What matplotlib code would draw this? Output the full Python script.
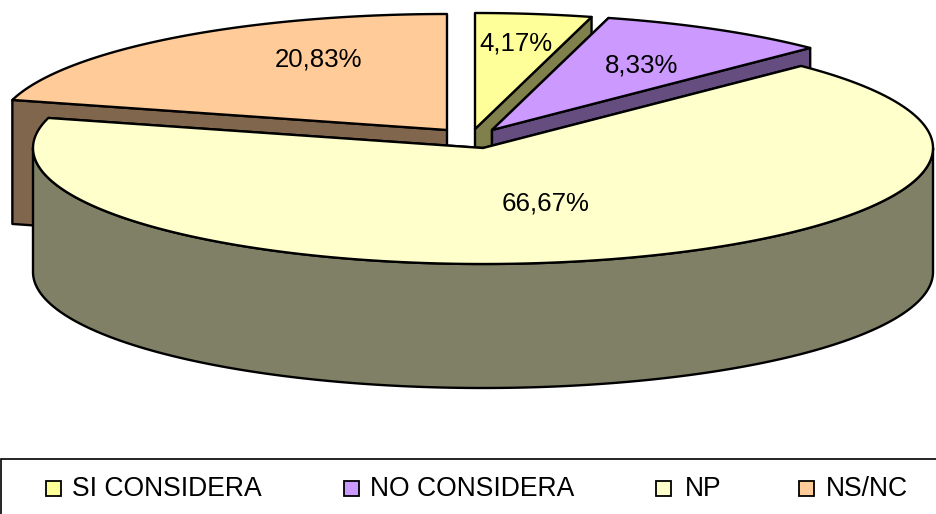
import numpy as np
import matplotlib
matplotlib.use("Agg")
import matplotlib.pyplot as plt
from matplotlib.patches import Polygon, Rectangle

categories = ["SI CONSIDERA", "NO CONSIDERA", "NP", "NS/NC"]
values = [4.17, 8.33, 66.67, 20.83]

top_colors = ["#FFFF99", "#CC99FF", "#FFFFCC", "#FFCC99"]
side_colors = ["#80804D", "#664D80", "#808066", "#80664D"]
apexes = [(475, 129), (492, 130), (483, 148), (447, 130)]
label_pos = [(516, 43), (642, 65), (546, 203), (318, 59)]
legend_box_x = [46, 344, 656, 799]
legend_text_x = [72, 370, 685, 826]
draw_order = [3, 0, 1, 2]

RX, RY, DEPTH = 450, 116, 124
LW = 1.7

plt.rcParams["font.family"] = ["Liberation Sans", "DejaVu Sans"]
fig = plt.figure(figsize=(9.36, 5.14), dpi=100)
ax = fig.add_axes([0, 0, 1, 1])
ax.set_xlim(0, 936)
ax.set_ylim(514, 0)
ax.axis("off")

edges = np.concatenate([[0], np.cumsum(values)]) * 3.6


def rim(apex, a0, a1):
    t = np.radians(np.linspace(a0, a1, max(2, int(abs(a1 - a0) * 2))))
    return np.column_stack([apex[0] + RX * np.sin(t), apex[1] - RY * np.cos(t)])


def face(pts, color, z):
    ax.add_patch(Polygon(pts, closed=True, facecolor=color, edgecolor="black",
                         linewidth=LW, joinstyle="round", zorder=z))


z = 1
for i in draw_order:
    a0, a1 = edges[i], edges[i + 1]
    apex = np.array(apexes[i], dtype=float)
    down = np.array([0, DEPTH])
    # cut faces
    for ang in (a0, a1):
        e = rim(apex, ang, ang)[0]
        if np.sin(np.radians(ang)) > 0 and ang <= 90 or 180 < ang < 360:
            face(np.array([apex, e, e + down, apex + down]), side_colors[i], z)
            z += 1
    # outer wall, front half only
    lo, hi = max(a0, 90), min(a1, 270)
    if hi > lo:
        arc = rim(apex, lo, hi)
        face(np.vstack([arc, arc[::-1] + down]), side_colors[i], z)
        z += 1
    # top
    face(np.vstack([apex, rim(apex, a0, a1)]), top_colors[i], z)
    z += 1

for v, (x, y) in zip(values, label_pos):
    ax.text(x, y, f"{v:.2f}%".replace(".", ","), ha="center", va="center",
            fontsize=18.6, color="black", zorder=50)

# legend frame
ax.add_patch(Rectangle((1, 459), 960, 80, facecolor="white", edgecolor="black",
                       linewidth=1.2, zorder=60, clip_on=True))
for name, col, bx, tx in zip(categories, top_colors, legend_box_x, legend_text_x):
    ax.add_patch(Rectangle((bx, 481), 15, 15, facecolor=col, edgecolor="black",
                           linewidth=1.3, zorder=61))
    ax.text(tx, 488.5, name, ha="left", va="center", fontsize=19.1, zorder=61)

fig.savefig("out.png", dpi=100, facecolor="white")
